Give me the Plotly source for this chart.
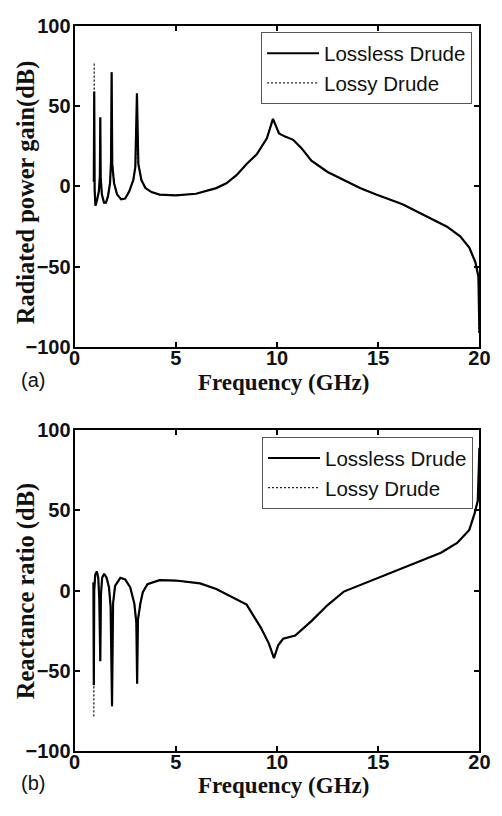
import plotly.graph_objects as go

# ---------------- data ----------------
freq_a = [0.95, 0.97, 0.99, 1.03, 1.10, 1.20, 1.25, 1.27, 1.29, 1.35, 1.45, 1.55, 1.65, 1.75,
          1.80, 1.83, 1.86, 1.95, 2.10, 2.30, 2.50, 2.70, 2.90, 3.00, 3.08, 3.15, 3.30, 3.50,
          3.80, 4.20, 5.00, 6.00, 7.00, 7.50, 8.00, 8.50, 9.00, 9.50, 9.80, 10.10, 10.40,
          10.80, 11.20, 11.70, 12.50, 13.30, 14.10, 14.90, 16.20, 17.45, 18.40, 19.05, 19.50,
          19.80, 19.95, 20.00]
gain_lossless = [3, 59, -2, -12, -9, -3, 7, 43, 5, -5, -10, -10, -6, 2,
                 15, 71, 14, 2, -5, -8, -7.5, -3, 4, 12, 58, 14, 4, -1,
                 -3.5, -5, -5.5, -4.5, -1, 2, 7, 14, 20, 30, 42, 33, 31,
                 29, 24, 16, 9, 4, -1, -5, -11, -19, -25, -31, -38,
                 -47, -56, -91]
gain_lossy = [3, 77, -2, -12, -9, -3, 7, 43, 5, -5, -10, -10, -6, 2,
              15, 71, 14, 2, -5, -8, -7.5, -3, 4, 12, 35, 14, 4, -1,
              -3.5, -5, -5.5, -4.5, -1, 2, 7, 14, 20, 30, 42, 33, 31,
              29, 24, 16, 9, 4, -1, -5, -11, -19, -25, -31, -38,
              -47, -56, -91]

freq_b = [0.93, 0.95, 0.97, 1.02, 1.10, 1.17, 1.22, 1.27, 1.30, 1.36, 1.46, 1.58, 1.70, 1.78,
          1.85, 1.90, 2.00, 2.26, 2.50, 2.75, 2.95, 3.05, 3.09, 3.13, 3.25, 3.37, 3.60, 4.20,
          5.00, 6.20, 7.00, 7.75, 8.50, 9.20, 9.60, 9.85, 10.06, 10.30, 10.90, 11.70, 12.50,
          13.30, 14.90, 16.50, 18.10, 18.90, 19.50, 19.76, 19.92, 20.00]
ratio_lossless = [5, -59, 0, 10, 12, 8, -5, -44, -3, 8, 10.5, 8, 2, -10,
                  -72, -8, 3, 8, 7, 2, -8, -20, -58, -18, -8, -1, 4, 6.5,
                  6.3, 4.5, 1, -3.6, -8.7, -23, -33, -42, -34, -30, -28, -19, -9,
                  -0.6, 7.5, 15.6, 23.6, 29.7, 37.8, 48, 56, 89]
ratio_lossy = [5, -79, 0, 10, 12, 8, -5, -44, -3, 8, 10.5, 8, 2, -10,
               -72, -8, 3, 8, 7, 2, -8, -20, -40, -18, -8, -1, 4, 6.5,
               6.3, 4.5, 1, -3.6, -8.7, -23, -33, -42, -34, -30, -28, -19, -9,
               -0.6, 7.5, 15.6, 23.6, 29.7, 37.8, 48, 56, 89]

series_names = ["Lossless Drude", "Lossy Drude"]
x_ticks = [0, 5, 10, 15, 20]
y_ticks = [-100, -50, 0, 50, 100]

# ---------------- figure ----------------
fig = go.Figure()

dash_style = dict(color="#222222", width=1.2, dash="2px,2px")
solid_style = dict(color="#000000", width=2.2)

# top panel
fig.add_trace(go.Scatter(x=freq_a, y=gain_lossy, mode="lines", line=dash_style,
                         name=series_names[1], xaxis="x", yaxis="y", legend="legend",
                         legendrank=2))
fig.add_trace(go.Scatter(x=freq_a, y=gain_lossless, mode="lines", line=solid_style,
                         name=series_names[0], xaxis="x", yaxis="y", legend="legend",
                         legendrank=1))
# bottom panel
fig.add_trace(go.Scatter(x=freq_b, y=ratio_lossy, mode="lines", line=dash_style,
                         name=series_names[1], xaxis="x2", yaxis="y2", legend="legend2",
                         legendrank=2))
fig.add_trace(go.Scatter(x=freq_b, y=ratio_lossless, mode="lines", line=solid_style,
                         name=series_names[0], xaxis="x2", yaxis="y2", legend="legend2",
                         legendrank=1))

W, H = 502, 816
x_dom = [71 / W, 490 / W]
top_dom = [1 - 345.7 / H, 1 - 15 / H]
bot_dom = [1 - 760.7 / H, 1 - 430.7 / H]

tickfont = dict(family="Liberation Sans, Arial", size=20, color="#111111", weight="bold")
axis_common = dict(showline=True, linecolor="#000000", linewidth=2, mirror="ticks",
                   ticks="inside", ticklen=5, tickwidth=1.5, tickcolor="#000000",
                   showgrid=False, zeroline=False, tickfont=tickfont)
x_common = dict(axis_common, ticklabelstandoff=-8)
y_common = dict(axis_common, ticklabelstandoff=-2)

legend_font = dict(family="Liberation Sans, Arial", size=20.5, color="#111111")
fig.update_layout(
    width=W, height=H,
    margin=dict(l=0, r=0, t=0, b=0),
    plot_bgcolor="white", paper_bgcolor="white",
    xaxis=dict(domain=x_dom, anchor="y", range=[0, 20], tickvals=x_ticks, **x_common),
    yaxis=dict(domain=top_dom, anchor="x", range=[-100, 100], tickvals=y_ticks, **y_common),
    xaxis2=dict(domain=x_dom, anchor="y2", range=[0, 20], tickvals=x_ticks, **x_common),
    yaxis2=dict(domain=bot_dom, anchor="x2", range=[-100, 100], tickvals=y_ticks, **y_common),
    legend=dict(x=264 / W, y=1 - 22 / H, xanchor="left", yanchor="top",
                bordercolor="#555555", borderwidth=1, bgcolor="white",
                font=legend_font, tracegroupgap=0, itemwidth=52),
    legend2=dict(x=265 / W, y=1 - 438 / H, xanchor="left", yanchor="top",
                 bordercolor="#555555", borderwidth=1, bgcolor="white",
                 font=legend_font, tracegroupgap=0, itemwidth=52),
    showlegend=True,
)

ytitle_font = dict(family="Liberation Serif, Times New Roman", size=24.5, color="#111111", weight="bold")
xtitle_font = dict(family="Liberation Serif, Times New Roman", size=23, color="#111111", weight="bold")
label_font = dict(family="Liberation Sans, Arial", size=20, color="#111111")

annotations = [
    dict(text="Radiated power gain(dB)", x=21 / W, y=1 - 186 / H, textangle=-90, font=ytitle_font),
    dict(text="Frequency (GHz)", x=287 / W, y=1 - 382 / H, font=xtitle_font),
    dict(text="(a)", x=28 / W, y=1 - 379 / H, font=label_font),
    dict(text="Reactance ratio (dB)", x=21 / W, y=1 - 596 / H, textangle=-90, font=ytitle_font),
    dict(text="Frequency (GHz)", x=287 / W, y=1 - 796 / H, font=xtitle_font),
    dict(text="(b)", x=28 / W, y=1 - 793 / H, font=label_font),
]
for a in annotations:
    a.update(xref="paper", yref="paper", showarrow=False, xanchor="center", yanchor="middle")
fig.update_layout(annotations=annotations)

fig.write_html("out.html")
